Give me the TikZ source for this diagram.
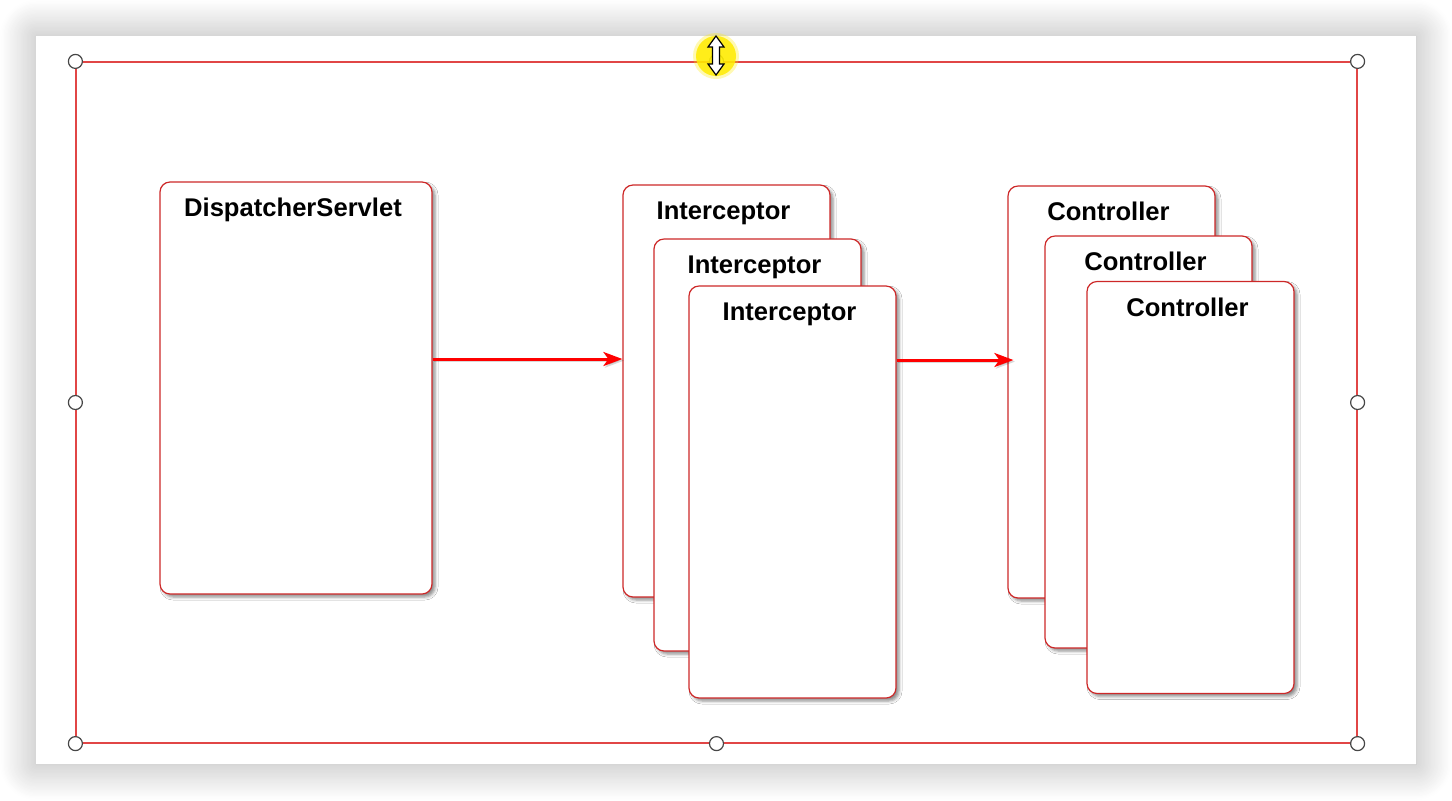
\documentclass[tikz,border=0pt]{standalone}
\usepackage{fontspec}
\setmainfont{Liberation Sans}
\usetikzlibrary{arrows.meta,positioning,shadows.blur}
\definecolor{cardred}{RGB}{205,40,40}
\definecolor{selred}{RGB}{225,70,70}
\definecolor{hilite}{RGB}{255,236,0}

\begin{document}
\begin{tikzpicture}[x=0.5pt, y=-0.5pt,
  every node/.style={font=\fontsize{12.8}{15}\selectfont\bfseries},
  card/.style={draw=cardred, line width=0.6pt, fill=white, rounded corners=5pt,
    minimum width=103.5pt, minimum height=206pt, inner sep=0pt,
    blur shadow={shadow xshift=1.5pt, shadow yshift=-1.5pt, shadow blur radius=1.5pt, shadow opacity=45}},
  title/.style={anchor=base, xshift=-1.5pt, yshift=-17.7pt},
  handle/.style={circle, draw=gray!55!black, fill=white, line width=0.6pt, minimum size=7pt, inner sep=0pt},
  flow/.style={draw=red, line width=1.5pt, -{Stealth[length=9.5pt, width=7pt, inset=2.5pt]}}]
  \useasboundingbox (0,0) rectangle (1452,800);

  % page and selection frame
  \node[fill=white, inner sep=0pt, minimum width=690pt, minimum height=364pt,
    blur shadow={shadow xshift=0pt, shadow yshift=0pt, shadow blur radius=18pt,
      shadow blur steps=30, shadow opacity=32}] (page) at (726,400) {};
  \node[draw=selred, line width=0.6pt, inner sep=0pt, minimum width=640.5pt, minimum height=340.5pt] (sel) at (716.5,402.5) {};

  % left box
  \node[card, minimum width=136pt, label={[title]north:DispatcherServlet}] (disp) at (296,388) {};

  % interceptor stack
  \node[card, label={[title]north:Interceptor}] (icpt1) at (726.5,391) {};
  \node[card, label={[title]north:Interceptor}] (icpt2) at (757.5,445) {};
  \node[card, label={[title]north:Interceptor}] (icpt3) at (792.5,492) {};

  % controller stack
  \node[card, label={[title]north:Controller}] (ctrl1) at (1111.5,392) {};
  \node[card, label={[title]north:Controller}] (ctrl2) at (1148.5,442) {};
  \node[card, label={[title]north:Controller}] (ctrl3) at (1190.5,487.5) {};

  \coordinate (a1) at ([yshift=14.5pt]disp.east);
  \coordinate (a2) at ([yshift=66pt]icpt3.east);
  \draw[flow, draw=black, opacity=0.15, transform canvas={xshift=0.8pt, yshift=-0.8pt}] (a1) -- (a1 -| icpt1.west);
  \draw[flow, draw=black, opacity=0.15, shorten >=-3pt, transform canvas={xshift=0.8pt, yshift=-0.8pt}] (a2) -- (a2 -| ctrl1.west);
  \draw[flow] (a1) -- (a1 -| icpt1.west);
  \draw[flow, shorten >=-3pt] (a2) -- (a2 -| ctrl1.west);

  % handles
  \foreach \anc [count=\i] in {north west,north,north east,west,east,south west,south,south east}
    \node[handle] (h\i) at (sel.\anc) {};

  % resize cursor
  \fill[hilite, opacity=0.3] (716,56) circle[radius=11.5pt];
  \fill[hilite, opacity=0.85] (716,56) circle[radius=10pt];
  \draw[fill=white, line width=0.6pt, line join=miter]
    (716,36) -- (724,47) -- (719.5,47) -- (719.5,64) -- (724,64) -- (716,75)
    -- (708,64) -- (712.5,64) -- (712.5,47) -- (708,47) -- cycle;
\end{tikzpicture}
\end{document}
